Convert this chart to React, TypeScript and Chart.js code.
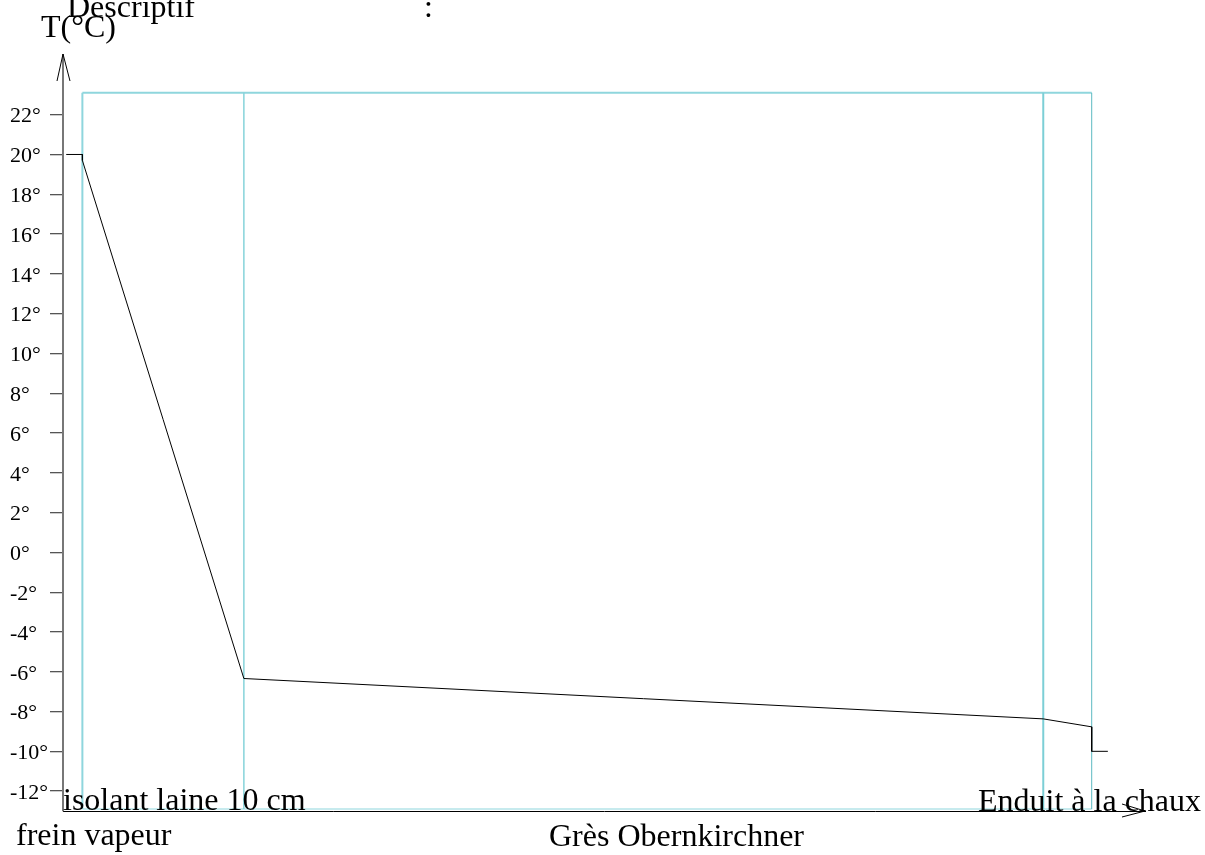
import React, { useEffect, useRef } from "react";
import { Chart, registerables } from "chart.js";

Chart.register(...registerables);

// Temperature profile through the wall (x: position in cm, y: °C)
const tempX = [-1, 0, 0, 10, 59.5, 62.5, 62.5, 63.5];
const tempY = [20, 20, 19.7, -6.34, -8.37, -8.77, -10, -10];

// Layer boundaries (cm): frein vapeur / isolant / grès / enduit
const layerBounds = [0, 10, 59.5, 62.5];
const layerWidths = [2, 1.5, 2, 1];
const layerColors = ["#8fd6dd", "#86d3da", "#7ccfd6", "#5bb9c1"];
const wallTop = 23.1;
const wallBottom = -12.9;

// Axis ranges and ticks
const xMin = -1.2;
const xMax = 65.8;
const yMin = -13;
const yMax = 25;
const yTicks = [-12, -10, -8, -6, -4, -2, 0, 2, 4, 6, 8, 10, 12, 14, 16, 18, 20, 22];

// Texts
const titleText = "Descriptif";
const colonText = ":";
const yAxisTitle = "T(°C)";
const layerLabels = [
  { text: "isolant laine 10 cm", x: 63, y: 810 },
  { text: "frein vapeur", x: 16, y: 845 },
  { text: "Grès Obernkirchner", x: 549, y: 846 },
  { text: "Enduit à la chaux", x: 978, y: 811 },
];

const SERIF = '"Liberation Serif", "Times New Roman", serif';

export default function App() {
  const ref = useRef<HTMLCanvasElement | null>(null);

  useEffect(() => {
    document.body.style.margin = "0";
    const canvas = ref.current;
    if (!canvas) return;

    const datasets: any[] = [
      {
        label: "T",
        data: tempX.map((x, i) => ({ x, y: tempY[i] })),
        borderColor: "#000000",
        borderWidth: 1,
        pointRadius: 0,
        tension: 0,
        showLine: true,
      },
    ];
    layerBounds.forEach((b, i) => {
      datasets.push({
        label: "b" + i,
        data: [
          { x: b, y: wallBottom },
          { x: b, y: wallTop },
        ],
        borderColor: layerColors[i],
        borderWidth: layerWidths[i],
        pointRadius: 0,
        showLine: true,
      });
    });
    datasets.push({
      label: "top",
      data: [
        { x: layerBounds[0], y: wallTop },
        { x: layerBounds[layerBounds.length - 1], y: wallTop },
      ],
      borderColor: "#8fd6dd",
      borderWidth: 2,
      pointRadius: 0,
      showLine: true,
    });
    datasets.push({
      label: "bottom",
      data: [
        { x: layerBounds[0], y: wallBottom },
        { x: layerBounds[layerBounds.length - 1], y: wallBottom },
      ],
      borderColor: "#8fd6dd",
      borderWidth: 1,
      pointRadius: 0,
      showLine: true,
    });

    const decor = {
      id: "decor",
      afterDraw(chart: any) {
        const { ctx, chartArea } = chart;
        const { left, right, top, bottom } = chartArea;
        ctx.save();
        // y arrow
        ctx.strokeStyle = "#000";
        ctx.lineWidth = 1;
        ctx.beginPath();
        ctx.moveTo(left - 6, top + 26);
        ctx.lineTo(left, top - 1);
        ctx.lineTo(left + 7, top + 26);
        ctx.stroke();
        // x arrow
        ctx.beginPath();
        ctx.moveTo(right - 23, bottom - 7);
        ctx.lineTo(right, bottom);
        ctx.lineTo(right - 23, bottom + 6);
        ctx.stroke();
        // texts
        ctx.fillStyle = "#000";
        ctx.font = "32px " + SERIF;
        ctx.textAlign = "left";
        ctx.textBaseline = "alphabetic";
        ctx.fillText(titleText, 67, 17);
        ctx.fillText(colonText, 424, 17);
        ctx.fillText(yAxisTitle, 41, 37);
        layerLabels.forEach((l) => ctx.fillText(l.text, l.x, l.y));
        ctx.restore();
      },
    };

    const chart = new Chart(canvas, {
      type: "scatter",
      data: { datasets },
      options: {
        animation: false,
        responsive: false,
        events: [],
        layout: { padding: { left: 10, top: 55, right: 60, bottom: 0 } },
        plugins: { legend: { display: false }, tooltip: { enabled: false } },
        scales: {
          x: {
            type: "linear",
            min: xMin,
            max: xMax,
            ticks: { display: false },
            grid: { display: false },
            border: { display: true, color: "#000", width: 1 },
            afterFit(scale: any) {
              scale.height = 44;
            },
          },
          y: {
            type: "linear",
            min: yMin,
            max: yMax,
            afterBuildTicks(scale: any) {
              scale.ticks = yTicks.map((v) => ({ value: v }));
            },
            afterFit(scale: any) {
              scale.width = 53;
            },
            ticks: {
              crossAlign: "far",
              color: "#000",
              labelOffset: 2,
              font: { family: SERIF, size: 22 },
              callback: (v: any) => v + "°",
            },
            grid: {
              drawOnChartArea: false,
              drawTicks: true,
              tickLength: 13,
              color: "#555",
              lineWidth: 1.3,
            },
            border: { display: true, color: "#777", width: 2 },
          },
        },
      },
      plugins: [decor],
    });
    return () => chart.destroy();
  }, []);

  return (
    <div style={{ position: "absolute", left: 0, top: 0, width: 1205, height: 855 }}>
      <canvas ref={ref} width={1205} height={855} style={{ display: "block" }} />
    </div>
  );
}
